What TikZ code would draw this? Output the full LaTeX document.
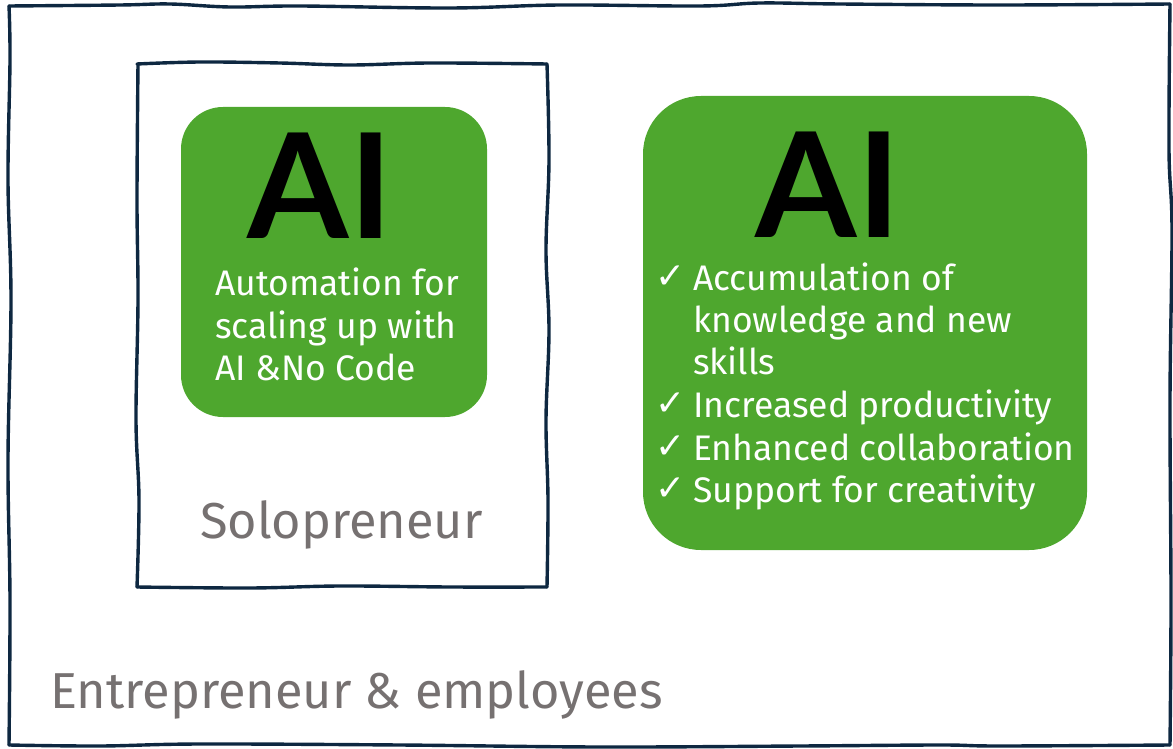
\documentclass[tikz,border=0pt]{standalone}
\usepackage{fontspec}
\setmainfont{Fira Sans}
\newfontfamily\aifont{Lato}
\newfontfamily\symfont{DejaVu Sans}
\definecolor{aigreen}{HTML}{4EA72E}
\definecolor{linecol}{HTML}{0E2841}
\definecolor{graytxt}{HTML}{767171}
\tikzset{
  hand/.style={draw=linecol, line width=3.4pt, line cap=round, line join=round},
  greenbox/.style={fill=aigreen, draw=none, rounded corners=#1},
  bigai/.style={font=\aifont\bfseries\fontsize{146}{146}\selectfont, text=black, inner sep=0, anchor=base},
  wtxt/.style={font=\fontsize{35.5}{42}\selectfont, text=white, inner sep=0, anchor=base west},
  chk/.style={font=\symfont\fontsize{36}{40}\selectfont, text=white, inner sep=0, anchor=base west},
  gtxt/.style={font=\fontsize{50.5}{60}\selectfont, text=graytxt, inner sep=0, anchor=base west}
}
\begin{document}
\begin{tikzpicture}[x=1pt,y=-1pt]
\useasboundingbox (0,0) rectangle (1173,749);
% outer hand-drawn frame
\draw[hand] plot[smooth, tension=0.6] coordinates {(9,6) (120,5) (170,4) (230,7) (300,6) (450,8) (560,5) (700,6) (760,3) (840,4) (1000,5) (1170,4)};
\draw[hand] plot[smooth, tension=0.6] coordinates {(1170,4) (1169,150) (1172,230) (1170,400) (1171,600) (1170,745)};
\draw[hand] plot[smooth, tension=0.6] coordinates {(1170,745) (1000,746) (940,745) (800,746) (600,747) (400,745) (200,744) (100,746) (9,745)};
\draw[hand] plot[smooth, tension=0.6] coordinates {(9,745) (10,600) (8,460) (11,300) (8,180) (10,60) (9,6)};
% inner hand-drawn frame
\draw[hand] plot[smooth, tension=0.6] coordinates {(137,64) (200,62) (280,63) (350,65) (430,63) (547,64)};
\draw[hand] plot[smooth, tension=0.6] coordinates {(547,64) (549,160) (546,250) (549,330) (546,420) (548,500) (547,587)};
\draw[hand] plot[smooth, tension=0.6] coordinates {(547,587) (450,587) (340,586) (250,588) (137,587)};
\draw[hand] plot[smooth, tension=0.6] coordinates {(137,587) (139,500) (136,420) (138,300) (137,200) (138,64)};
% green boxes
\node[greenbox=42pt, minimum width=306pt, minimum height=310pt, inner sep=0] (lbox) at (334,262) {};
\node[greenbox=58pt, minimum width=444pt, minimum height=454pt, inner sep=0] (rbox) at (865,323) {};
% AI titles
\node[bigai] (lai) at (320,238) {AI};
\node[bigai] (rai) at (828,237) {AI};
% left box text
\node[wtxt] (la1) at (215,295) {Automation for};
\node[wtxt] (la2) at (215,338) {scaling up with};
\node[wtxt] (la3) at (215,380) {AI \&No Code};
% right box list
\node[chk] (c1) at (655,288) {✓};
\node[wtxt] (r1) at (693,290) {Accumulation of};
\node[wtxt] (r2) at (693,332) {knowledge and new};
\node[wtxt] (r3) at (693,374) {skills};
\node[chk] (c2) at (655,415) {✓};
\node[wtxt] (r4) at (693,417) {Increased productivity};
\node[chk] (c3) at (655,458) {✓};
\node[wtxt] (r5) at (693,460) {Enhanced collaboration};
\node[chk] (c4) at (655,500) {✓};
\node[wtxt] (r6) at (693,502) {Support for creativity};
% gray labels
\node[gtxt] (solo) at (200,538) {Solopreneur};
\node[gtxt] (entre) at (50,708) {Entrepreneur \& employees};
\end{tikzpicture}
\end{document}
